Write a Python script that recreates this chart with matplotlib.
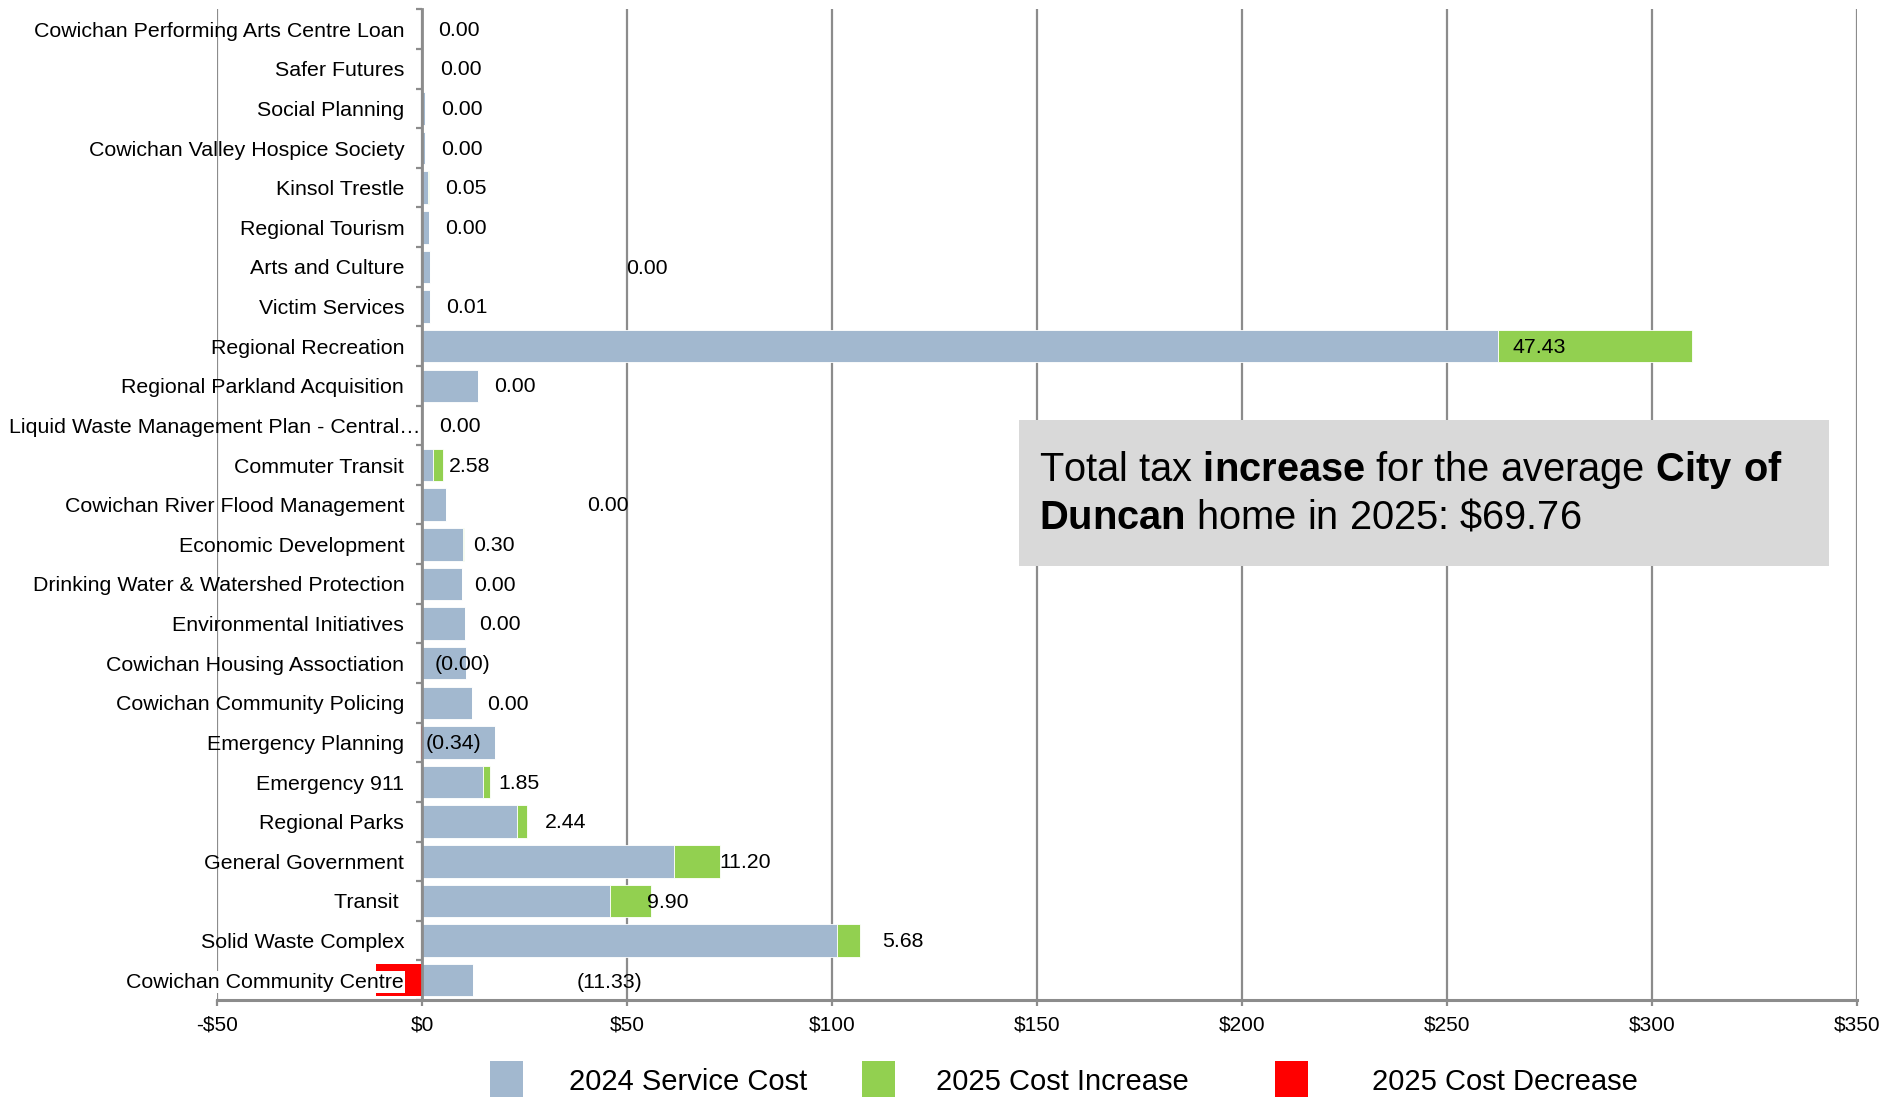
import numpy as np
import matplotlib
matplotlib.use("Agg")
from matplotlib import pyplot as plt
from matplotlib.patches import Rectangle
from matplotlib.transforms import ScaledTranslation

plt.rcParams['font.family'] = ['Liberation Sans', 'DejaVu Sans']
plt.rcParams['mathtext.fontset'] = 'custom'
plt.rcParams['mathtext.rm'] = 'Liberation Sans'
plt.rcParams['mathtext.bf'] = 'Liberation Sans:bold'

# services, top to bottom
services = [
    'Cowichan Performing Arts Centre Loan', 'Safer Futures', 'Social Planning',
    'Cowichan Valley Hospice Society', 'Kinsol Trestle', 'Regional Tourism',
    'Arts and Culture', 'Victim Services', 'Regional Recreation',
    'Regional Parkland Acquisition', 'Liquid Waste Management Plan - Central\u2026',
    'Commuter Transit', 'Cowichan River Flood Management', 'Economic Development',
    'Drinking Water & Watershed Protection', 'Environmental Initiatives',
    'Cowichan Housing Assoctiation', 'Cowichan Community Policing',
    'Emergency Planning', 'Emergency 911', 'Regional Parks', 'General Government',
    'Transit ', 'Solid Waste Complex', 'Cowichan Community Centre',
]
cost_2024 = [0.1, 0.2, 0.6, 0.7, 1.5, 1.6, 1.8, 2.0, 262.4, 13.6, 0.1, 2.6, 5.9,
             10.0, 9.8, 10.4, 10.7, 12.1, 17.8, 14.8, 23.1, 61.4, 45.9, 101.1, 12.4]
change_2025 = [0.00, 0.00, 0.00, 0.00, 0.05, 0.00, 0.00, 0.01, 47.43, 0.00, 0.00,
               2.58, 0.00, 0.30, 0.00, 0.00, -0.004, 0.00, -0.34, 1.85, 2.44,
               11.20, 9.90, 5.68, -11.33]
# where the data labels sit (x in $)
label_x = [8.9, 9.5, 9.8, 9.8, 10.7, 10.7, 54.7, 10.9, 272.5, 22.5, 9.2, 11.5,
           45.3, 17.5, 17.8, 18.9, 9.8, 21.0, 7.7, 23.7, 34.9, 78.7, 59.8, 117.2, 45.6]

blue = '#A2B8CF'
green = '#92D050'
red = '#FF0000'
grey = '#8C8C8C'

y = np.arange(len(services))
base = np.array(cost_2024)
chg = np.array(change_2025)
inc = np.where(chg > 0, chg, 0)
dec = np.where(chg < 0, chg, 0)

fig = plt.figure(figsize=(19.02, 10.97), dpi=100)
ax = fig.add_axes([0.1142, 0.0884, 0.8622, 0.9031])

h = 0.82
ax.barh(y, base, height=h, color=blue, edgecolor='white', linewidth=0.6, zorder=2)
ax.barh(y, inc, left=base, height=h, color=green, edgecolor='white', linewidth=0.6, zorder=2)
ax.barh(y, dec, height=h, color=red, edgecolor='none', zorder=2)

for i, v in enumerate(change_2025):
    s = '(%.2f)' % abs(v) if v < 0 else '%.2f' % v
    dy = 0.07 if i == len(services) - 1 else 0.03
    ax.text(label_x[i], y[i] + dy, s, ha='center', va='center', fontsize=15.3, zorder=4)

ax.set_xlim(-50, 350)
ax.set_ylim(len(services) - 0.5, -0.5)
xt = np.arange(-50, 351, 50)
ax.set_xticks(xt)
ax.set_xticklabels([('-$%d' % -t) if t < 0 else '$%d' % t for t in xt])
ax.set_yticks(y)
ax.set_yticklabels(services)
ax.set_yticks(np.arange(-0.5, len(services), 1), minor=True)

ax.grid(axis='x', color=grey, linewidth=1.6)
ax.grid(axis='y', visible=False)
ax.set_axisbelow(True)
ax.yaxis.set_zorder(3)

for s in ['top', 'right']:
    ax.spines[s].set_visible(False)
ax.spines['left'].set_position(('data', 0))
ax.spines['left'].set_color(grey)
ax.spines['left'].set_linewidth(2)
ax.spines['bottom'].set_color(grey)
ax.spines['bottom'].set_linewidth(2.2)

ax.tick_params(axis='y', which='major', length=0, pad=13, labelsize=15.4)
ax.tick_params(axis='y', which='minor', length=4, width=1.6, color=grey, direction='out')
ax.tick_params(axis='x', length=4, width=1.6, color=grey, pad=7, labelsize=15)

ylabels = ax.get_yticklabels()
ylabels[-1].set_bbox(dict(facecolor='white', edgecolor='none', pad=1))
# the long truncated label runs right up to the axis line
long_lbl = ylabels[10]
long_lbl.set_transform(long_lbl.get_transform() + ScaledTranslation(12 / 72, 0, fig.dpi_scale_trans))

# summary box
fig.patches.append(Rectangle((0.5358, 0.484), 0.4259, 0.133, transform=fig.transFigure,
                             facecolor='#D9D9D9', edgecolor='none', zorder=5))
fig.text(0.5463, 0.572, r'Total tax $\mathbf{increase}$ for the average $\mathbf{City\ of}$',
         fontsize=28.7, va='center', ha='left', zorder=6)
fig.text(0.5463, 0.528, r'$\mathbf{Duncan}$ home in 2025: \$69.76',
         fontsize=28.7, va='center', ha='left', zorder=6)

# legend along the bottom edge
legend_items = [('2024 Service Cost', blue), ('2025 Cost Increase', green), ('2025 Cost Decrease', red)]
sq_x = [0.2576, 0.4533, 0.6703]
txt_x = [0.2991, 0.4923, 0.7213]
for (name, col), sx, tx in zip(legend_items, sq_x, txt_x):
    fig.patches.append(Rectangle((sx, 0.0), 0.0174, 0.0328, transform=fig.transFigure,
                                 facecolor=col, edgecolor='none'))
    fig.text(tx, 0.0137, name, fontsize=21, va='center', ha='left')

fig.savefig('out.png', dpi=100)
